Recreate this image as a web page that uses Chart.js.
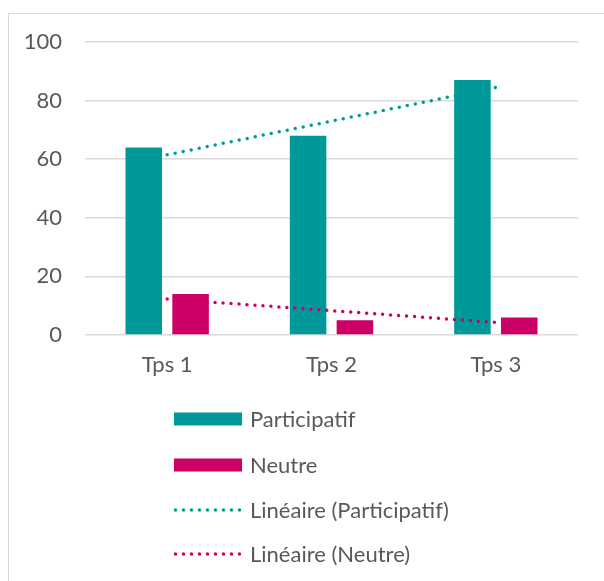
<!DOCTYPE html>
<html><head><meta charset="utf-8">
<script src="https://cdn.jsdelivr.net/npm/chart.js@4"></script>
<style>
html,body{margin:0;padding:0;background:#fff;overflow:hidden;width:604px;height:581px;}
#frame{position:absolute;left:8px;top:13px;width:800px;height:800px;border:1.5px solid #d9d9d9;}
canvas{position:absolute;left:0;top:0;}
</style></head><body>
<div id="frame"></div>
<canvas id="c" width="604" height="581"></canvas>
<script>
const categories = ['Tps 1', 'Tps 2', 'Tps 3'];
const participatif = [64, 68, 87];
const neutre = [14, 5, 6];
const trendParticipatif = [61.5, 73, 84.5];
const trendNeutre = [12.3, 8.3, 4.3];
const yTicks = [0, 20, 40, 60, 80, 100];
const seriesLabels = ['Participatif', 'Neutre', 'Linéaire (Participatif)', 'Linéaire (Neutre)'];

const TEAL = '#009999';
const MAGENTA = '#CC0066';
const TEXT = '#595959';
const FONT = 'Lato';
const FSIZE = 22;

const legendPlugin = {
  id: 'customLegend',
  afterDraw(chart) {
    const ctx = chart.ctx;
    const x0 = 174, w = 68, tx = 250;
    const rows = [419, 465, 510, 554];
    ctx.save();
    chart.data.datasets.forEach((ds, i) => {
      const y = rows[i];
      if (ds.type === 'line') {
        ctx.strokeStyle = ds.borderColor;
        ctx.lineWidth = ds.borderWidth;
        ctx.lineCap = 'round';
        ctx.setLineDash([0, 8]);
        ctx.beginPath();
        ctx.moveTo(x0 + 1.5, y);
        ctx.lineTo(x0 + w, y);
        ctx.stroke();
        ctx.setLineDash([]);
      } else {
        ctx.fillStyle = ds.backgroundColor;
        ctx.fillRect(x0, y - 6.5, w, 13);
      }
      ctx.fillStyle = TEXT;
      ctx.font = FSIZE + 'px ' + FONT;
      ctx.textBaseline = 'middle';
      ctx.textAlign = 'left';
      ctx.fillText(ds.label, tx, y + 1);
    });
    ctx.restore();
  }
};

new Chart(document.getElementById('c'), {
  data: {
    labels: categories,
    datasets: [
      { type: 'bar', label: seriesLabels[0], data: participatif, backgroundColor: TEAL, order: 2,
        categoryPercentage: 0.57, barPercentage: 0.78 },
      { type: 'bar', label: seriesLabels[1], data: neutre, backgroundColor: MAGENTA, order: 2,
        categoryPercentage: 0.57, barPercentage: 0.78 },
      { type: 'line', label: seriesLabels[2], data: trendParticipatif, borderColor: TEAL, borderWidth: 3.5,
        borderDash: [0, 8.17], borderCapStyle: 'round', pointRadius: 0, fill: false, tension: 0, order: 1 },
      { type: 'line', label: seriesLabels[3], data: trendNeutre, borderColor: MAGENTA, borderWidth: 3.5,
        borderDash: [0, 8], borderCapStyle: 'round', pointRadius: 0, fill: false, tension: 0, order: 1 }
    ]
  },
  options: {
    responsive: false,
    animation: false,
    layout: { padding: { left: 0, top: 42, right: 26, bottom: 0 } },
    plugins: { legend: { display: false }, tooltip: { enabled: false } },
    scales: {
      x: {
        grid: { display: false, drawTicks: false },
        border: { display: false },
        ticks: { color: TEXT, font: { family: FONT, size: FSIZE }, padding: 17 },
        afterFit(scale) { scale.height = 581 - 335; }
      },
      y: {
        min: 0, max: 100,
        afterBuildTicks(scale) { scale.ticks = yTicks.map(v => ({ value: v })); },
        grid: { color: '#d9d9d9', lineWidth: 1.5, drawTicks: false },
        border: { display: false },
        ticks: { color: TEXT, font: { family: FONT, size: FSIZE }, padding: 23 },
        afterFit(scale) { scale.width = 85; }
      }
    }
  },
  plugins: [legendPlugin]
});
</script>
</body></html>
